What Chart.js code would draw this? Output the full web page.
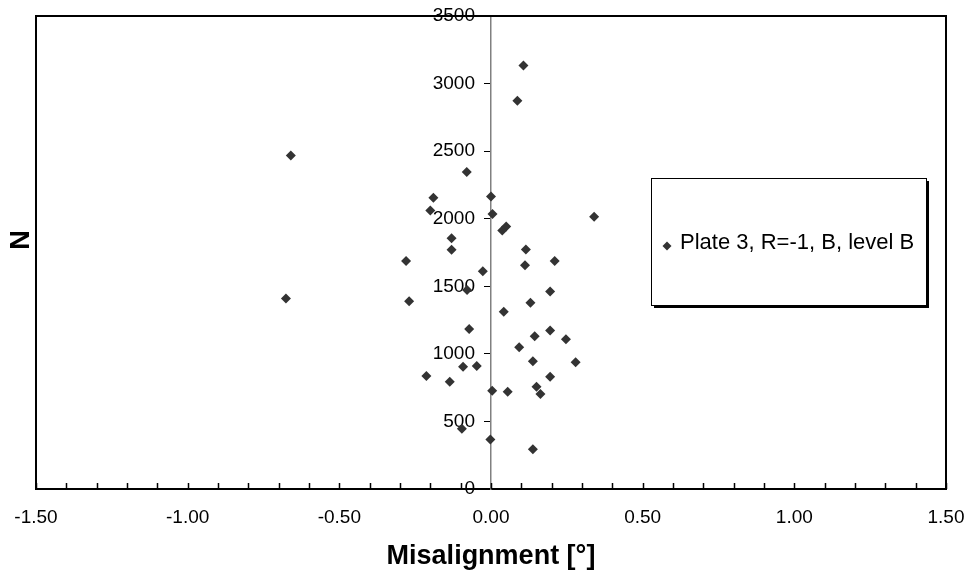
<!DOCTYPE html>
<html>
<head>
<meta charset="utf-8">
<script src="https://cdn.jsdelivr.net/npm/chart.js@4.4.1/dist/chart.umd.min.js"></script>
<style>
  html, body { margin: 0; padding: 0; background: #ffffff; }
  #wrap { width: 969px; height: 575px; position: relative; }
</style>
</head>
<body>
<div id="wrap"><canvas id="chart" width="969" height="575"></canvas></div>
<script>
// Fatigue results: misalignment angle vs. cycles N
const seriesName = 'Plate 3, R=-1, B, level B';

const misalignment = [
  -0.66, -0.08, -0.19, 0.00, -0.20, 0.005, 0.34, 0.05, 0.037, -0.13,
  -0.13, 0.115, -0.28, 0.21, 0.112, -0.027, -0.676, -0.27, -0.079, 0.195,
  0.13, 0.042, -0.072, 0.195, 0.144, 0.247, 0.093, 0.138, 0.279, -0.092,
  -0.047, -0.213, -0.136, 0.195, 0.004, 0.055, 0.15, 0.163, -0.096, -0.002,
  0.138, 0.107, 0.087
];

const cycles = [
  2468, 2345, 2155, 2165, 2060, 2035, 2015, 1942, 1913, 1856,
  1770, 1772, 1688, 1688, 1656, 1612, 1409, 1390, 1473, 1461,
  1379, 1312, 1184, 1172, 1130, 1108, 1049, 945, 938, 905,
  910, 836, 794, 831, 727, 720, 757, 703, 445, 367,
  295, 3133, 2872
];

const xTickValues = [-1.5, -1.0, -0.5, 0, 0.5, 1.0, 1.5];
const yTickValues = [0, 500, 1000, 1500, 2000, 2500, 3000, 3500];

const FONT = "'Liberation Sans', Arial, Helvetica, sans-serif";
const MARK = '#333333';

// Keep tick-label overhang from shrinking the plot area
const noLabelPadding = s => {
  s.paddingLeft = 0; s.paddingRight = 0; s.paddingTop = 0; s.paddingBottom = 0;
};

// The y axis crosses at x = 0; move its labels clear of the tick marks
const yLabelGap = {
  id: 'yLabelGap',
  beforeDraw(chart) {
    const s = chart.scales.y;
    const items = s.getLabelItems(chart.chartArea);
    if (!items._shifted) {
      items.forEach(it => { it.options.translation[0] -= 16; });
      items._shifted = true;
    }
  }
};

// Black frame around the plot area (top, left, right)
const plotFrame = {
  id: 'plotFrame',
  afterDatasetsDraw(chart) {
    const { ctx, chartArea: a } = chart;
    ctx.save();
    ctx.strokeStyle = '#000';
    ctx.lineWidth = 2;
    ctx.beginPath();
    ctx.moveTo(a.left, a.bottom);
    ctx.lineTo(a.left, a.top);
    ctx.lineTo(a.right, a.top);
    ctx.lineTo(a.right, a.bottom);
    ctx.stroke();
    ctx.restore();
  }
};

// Small inward tick marks along the x axis every 0.1
const xMinorTicks = {
  id: 'xMinorTicks',
  afterDatasetsDraw(chart) {
    const { ctx, chartArea: a, scales: { x } } = chart;
    ctx.save();
    ctx.strokeStyle = '#000';
    ctx.lineWidth = 1.5;
    ctx.beginPath();
    for (let i = -15; i <= 15; i++) {
      const px = Math.round(x.getPixelForValue(i / 10)) + 0.5;
      ctx.moveTo(px, a.bottom);
      ctx.lineTo(px, a.bottom - 6);
    }
    ctx.stroke();
    ctx.restore();
  }
};

// Vertical axis title placed at the far left
const yTitle = {
  id: 'yTitle',
  afterDraw(chart) {
    const { ctx } = chart;
    ctx.save();
    ctx.translate(22, 240);
    ctx.rotate(-Math.PI / 2);
    ctx.fillStyle = '#000';
    ctx.font = 'bold 27px ' + FONT;
    ctx.textAlign = 'center';
    ctx.textBaseline = 'middle';
    ctx.fillText('N', 0, 0);
    ctx.restore();
  }
};

// Boxed legend with a drop shadow inside the plot area
const legendBox = {
  id: 'legendBox',
  afterDraw(chart) {
    const { ctx } = chart;
    const ds = chart.data.datasets[0];
    const x0 = 651, y0 = 178, w = 275, h = 127;
    ctx.save();
    ctx.fillStyle = '#000';
    ctx.fillRect(x0 + 3, y0 + 3, w, h);
    ctx.fillStyle = '#fff';
    ctx.fillRect(x0, y0, w, h);
    ctx.strokeStyle = '#000';
    ctx.lineWidth = 1;
    ctx.strokeRect(x0 + 0.5, y0 + 0.5, w, h);
    Chart.helpers.drawPoint(ctx, { pointStyle: 'rectRot', radius: 4.5, borderWidth: 0 }, 667, 246);
    ctx.fillStyle = MARK;
    ctx.fill();
    ctx.fillStyle = '#000';
    ctx.font = '22px ' + FONT;
    ctx.textAlign = 'left';
    ctx.textBaseline = 'middle';
    ctx.fillText(ds.label, 680, 243);
    ctx.restore();
  }
};

new Chart(document.getElementById('chart'), {
  type: 'scatter',
  data: {
    datasets: [{
      label: seriesName,
      data: misalignment.map((v, i) => ({ x: v, y: cycles[i] })),
      pointStyle: 'rectRot',
      pointRadius: 5,
      pointHoverRadius: 5,
      pointBorderWidth: 0,
      backgroundColor: MARK,
      borderColor: MARK
    }]
  },
  options: {
    responsive: false,
    animation: false,
    events: [],
    layout: { padding: { left: 36, right: 23, top: 16, bottom: 0 } },
    plugins: { legend: { display: false }, tooltip: { enabled: false } },
    scales: {
      x: {
        type: 'linear',
        position: 'bottom',
        min: -1.5,
        max: 1.5,
        afterBuildTicks: s => { s.ticks = xTickValues.map(v => ({ value: v })); },
        afterFit: s => { s.height = 86; noLabelPadding(s); },
        grid: { display: true, drawOnChartArea: false, drawTicks: false },
        border: { display: true, color: '#000', width: 2 },
        ticks: {
          color: '#000',
          padding: 17,
          maxRotation: 0,
          font: { family: FONT, size: 19 },
          callback: v => Number(v).toFixed(2)
        },
        title: {
          display: true,
          text: 'Misalignment [°]',
          color: '#000',
          font: { family: FONT, size: 27, weight: 'bold' },
          padding: { top: 0, bottom: 2 }
        }
      },
      y: {
        type: 'linear',
        position: { x: 0 },
        min: 0,
        max: 3500,
        afterBuildTicks: s => { s.ticks = yTickValues.map(v => ({ value: v })); },
        afterFit: s => { noLabelPadding(s); },
        grid: { display: true, drawOnChartArea: false, drawTicks: true, tickLength: 6, tickColor: '#000', tickWidth: 1 },
        border: { display: true, color: '#808080', width: 1.5 },
        ticks: {
          color: '#000',
          padding: 10,
          font: { family: FONT, size: 19 },
          callback: v => String(v)
        }
      }
    }
  },
  plugins: [yLabelGap, plotFrame, xMinorTicks, yTitle, legendBox]
});
</script>
</body>
</html>
